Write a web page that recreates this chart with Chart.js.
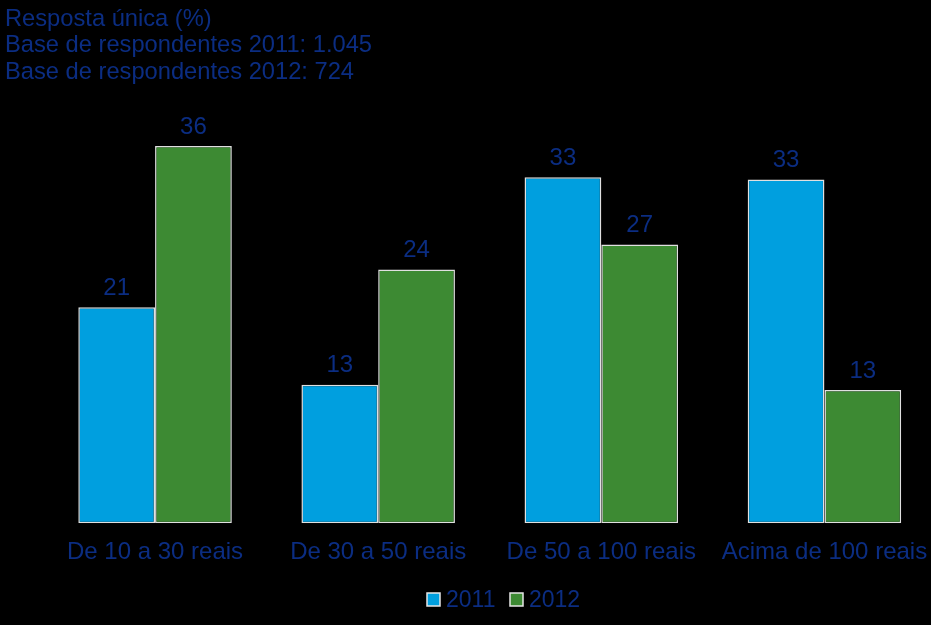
<!DOCTYPE html>
<html>
<head>
<meta charset="utf-8">
<script src="https://cdn.jsdelivr.net/npm/chart.js@4"></script>
<style>
  html, body { margin: 0; padding: 0; background: #000; overflow: hidden; }
  #wrap { width: 931px; height: 625px; overflow: hidden; }
</style>
</head>
<body>
<div id="wrap"><canvas id="chart" width="936" height="625"></canvas></div>
<script>
const categories = ['De 10 a 30 reais', 'De 30 a 50 reais', 'De 50 a 100 reais', 'Acima de 100 reais'];
// bar heights; labels show them rounded
const values2011 = [20.6, 13.2, 33.0, 32.8];
const values2012 = [36.0, 24.2, 26.6, 12.7];
const titleLines = ['Resposta única (%)', 'Base de respondentes 2011: 1.045', 'Base de respondentes 2012: 724'];

const textColor = '#0b2d82';
Chart.defaults.font.family = '"Liberation Sans", Arial, sans-serif';

// title, value labels and legend drawn on the canvas
const extras = {
    id: 'extras',
    afterDatasetsDraw(chart) {
        const c = chart.ctx;
        c.save();
        c.fillStyle = textColor;
        c.font = '24px "Liberation Sans", Arial, sans-serif';
        c.textAlign = 'center';
        c.textBaseline = 'middle';
        chart.data.datasets.forEach((ds, i) => {
            chart.getDatasetMeta(i).data.forEach((bar, j) => {
                c.fillText(Math.round(ds.data[j]), bar.x, bar.y - 19);
            });
        });

        c.textAlign = 'left';
        c.font = '23.7px "Liberation Sans", Arial, sans-serif';
        titleLines.forEach((t, i) => c.fillText(t, 5, 19 + i * 26.5));

        // legend
        c.font = '23px "Liberation Sans", Arial, sans-serif';
        let x = 427;
        chart.data.datasets.forEach(ds => {
            c.fillStyle = ds.backgroundColor;
            c.fillRect(x, 593, 13, 13);
            c.strokeStyle = '#e6e6e6';
            c.lineWidth = 1.5;
            c.strokeRect(x, 593, 13, 13);
            c.fillStyle = textColor;
            c.fillText(ds.label, x + 19, 601);
            x += 83;
        });
        c.restore();
    }
};

new Chart(document.getElementById('chart'), {
    type: 'bar',
    data: {
        labels: categories,
        datasets: [
            {
                label: '2011',
                data: values2011,
                backgroundColor: '#009fdf',
                borderColor: '#e0e0e0',
                borderWidth: 1.5,
                borderSkipped: false
            },
            {
                label: '2012',
                data: values2012,
                backgroundColor: '#3d8a33',
                borderColor: '#e0e0e0',
                borderWidth: 1.5,
                borderSkipped: false
            }
        ]
    },
    options: {
        responsive: false,
        animation: false,
        categoryPercentage: 0.688,
        barPercentage: 1.0,
        layout: { padding: { left: 43.5, right: 0, top: 104, bottom: 43 } },
        plugins: {
            legend: { display: false },
            tooltip: { enabled: false }
        },
        scales: {
            x: {
                grid: { display: false, drawTicks: false },
                border: { display: false },
                ticks: { color: textColor, font: { size: 24 }, padding: 15, maxRotation: 0 },
                afterFit(scale) {
                    scale.paddingLeft = 0;
                    scale.paddingRight = 0;
                }
            },
            y: {
                display: false,
                min: 0,
                max: 40
            }
        }
    },
    plugins: [extras]
});
</script>
</body>
</html>
